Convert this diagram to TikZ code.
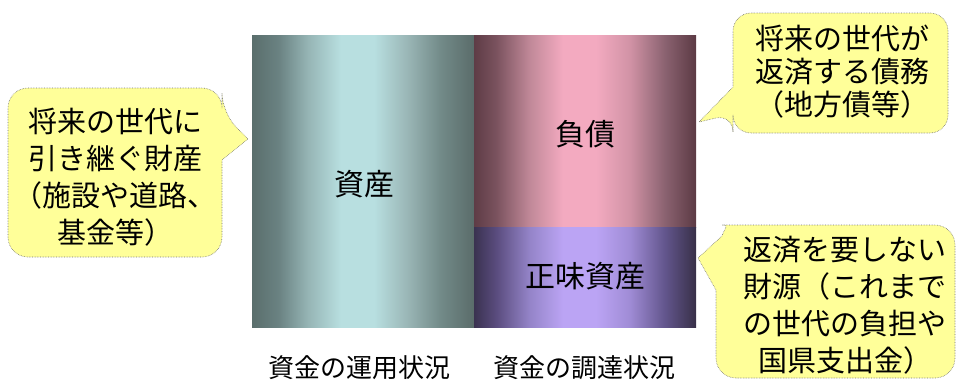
\documentclass[tikz,border=0pt]{standalone}
\usepackage{fontspec}
\newfontfamily\jp{Noto Sans CJK JP}
\definecolor{tA}{HTML}{5A6E6C}
\definecolor{tB}{HTML}{6A8282}
\definecolor{tC}{HTML}{95B4B4}
\definecolor{tD}{HTML}{B8DFE0}
\definecolor{tE}{HTML}{9AB6B6}
\definecolor{tF}{HTML}{728A88}
\definecolor{tG}{HTML}{5A6C6A}
\definecolor{pA}{HTML}{5E3C46}
\definecolor{pB}{HTML}{7A525E}
\definecolor{pC}{HTML}{C08898}
\definecolor{pD}{HTML}{F3AAC0}
\definecolor{pE}{HTML}{D293A6}
\definecolor{pF}{HTML}{8A6270}
\definecolor{pG}{HTML}{5C3A44}
\definecolor{vA}{HTML}{3A3250}
\definecolor{vB}{HTML}{5A4C7E}
\definecolor{vC}{HTML}{9484C8}
\definecolor{vD}{HTML}{BBA4F4}
\definecolor{vE}{HTML}{A08CD6}
\definecolor{vF}{HTML}{62558C}
\definecolor{vG}{HTML}{383048}
\definecolor{callfill}{HTML}{FFFF99}
\pgfdeclarehorizontalshading{tealsh}{100bp}{color(0bp)=(tA); color(25bp)=(tA); color(31bp)=(tB); color(37.5bp)=(tC); color(45bp)=(tD); color(52.5bp)=(tD); color(60bp)=(tE); color(67.5bp)=(tF); color(75bp)=(tG); color(100bp)=(tG)}
\pgfdeclarehorizontalshading{pinksh}{100bp}{color(0bp)=(pA); color(25bp)=(pA); color(30bp)=(pB); color(37.5bp)=(pC); color(45bp)=(pD); color(52.5bp)=(pD); color(60bp)=(pE); color(68bp)=(pF); color(75bp)=(pG); color(100bp)=(pG)}
\pgfdeclarehorizontalshading{violetsh}{100bp}{color(0bp)=(vA); color(25bp)=(vA); color(30bp)=(vB); color(37.5bp)=(vC); color(45bp)=(vD); color(52.5bp)=(vD); color(60bp)=(vE); color(68bp)=(vF); color(75bp)=(vG); color(100bp)=(vG)}
\tikzset{
  callout/.style={fill=callfill, draw=black!55, densely dotted, line width=0.6pt},
  bartext/.style={inner sep=0pt, font=\jp\fontsize{30pt}{36pt}\selectfont},
  calltext/.style={inner sep=0pt, align=center, font=\jp\fontsize{29pt}{37pt}\selectfont},
  axistext/.style={inner sep=0pt, font=\jp\fontsize{26pt}{30pt}\selectfont}
}
\begin{document}
\begin{tikzpicture}[x=1pt,y=-1pt]
\useasboundingbox (0,0) rectangle (957,383);
% bars
\shade[shading=tealsh] (252,35) rectangle (474,327);
\shade[shading=pinksh] (474,35) rectangle (696,227);
\shade[shading=violetsh] (474,227) rectangle (696,327);
\node[bartext] (assets) at (364,184) {資産};
\node[bartext] (debt) at (585,134) {負債};
\node[bartext] (equity) at (585,276) {正味資産};
\node[axistext] (use) at (359,368) {資金の運用状況};
\node[axistext] (fund) at (584,368) {資金の調達状況};
% left callout
\draw[callout] (8,170) [rounded corners=20pt] -- (8,88) -- (222,88) -- (222,113) [sharp corners] -- (248,139) -- (222,160) [rounded corners=20pt] -- (222,257) -- (8,257) -- cycle;
\node[calltext] (lefttext) at (115,177) {将来の世代に\\引き継ぐ財産\\（施設や道路、\\基金等）};
% top right callout
\draw[callout] (840,13) [rounded corners=18pt] -- (948,13) -- (948,133) -- (733,133) -- (733,114) [sharp corners] -- (699,122) -- (733,87) [rounded corners=18pt] -- (733,13) -- cycle;
\node[calltext, font=\jp\fontsize{29pt}{33pt}\selectfont] (toptext) at (842,72) {将来の世代が\\返済する債務\\（地方債等）};
% bottom right callout
\draw[callout] (840,378) [rounded corners=20pt] -- (955,378) -- (955,225) -- (742,225) [sharp corners] .. controls (730,225) and (724,229) .. (722,236) -- (698,258) -- (716,290) [rounded corners=20pt] -- (716,378) -- cycle;
\node[calltext] (bottext) at (845,305) {返済を要しない\\財源（これまで\\の世代の負担や\\国県支出金）};
\end{tikzpicture}
\end{document}
